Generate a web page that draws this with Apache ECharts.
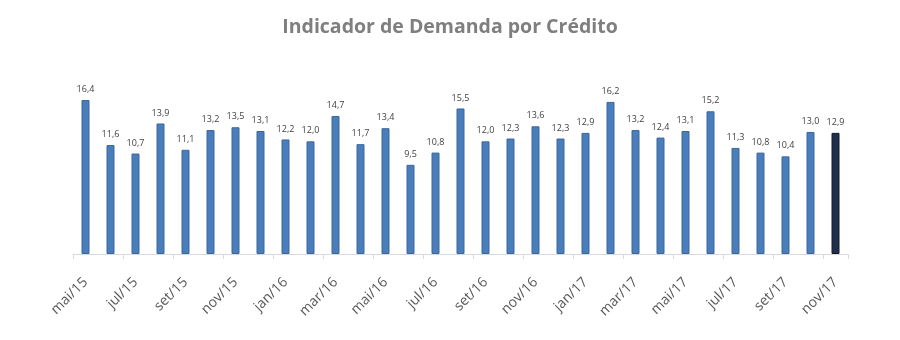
<!DOCTYPE html>
<html>
<head>
<meta charset="utf-8">
<script src="https://cdn.jsdelivr.net/npm/echarts@6/dist/echarts.min.js"></script>
<style>
  html, body { margin: 0; padding: 0; background: #ffffff; }
  #chart { width: 900px; height: 340px; }
</style>
</head>
<body>
<div id="chart"></div>
<script>
// Monthly credit demand indicator, May 2015 – November 2017
const months = [
  'mai/15','jun/15','jul/15','ago/15','set/15','out/15','nov/15','dez/15',
  'jan/16','fev/16','mar/16','abr/16','mai/16','jun/16','jul/16','ago/16',
  'set/16','out/16','nov/16','dez/16','jan/17','fev/17','mar/17','abr/17',
  'mai/17','jun/17','jul/17','ago/17','set/17','out/17','nov/17'
];
const indicatorValues = [
  16.4, 11.6, 10.7, 13.9, 11.1, 13.2, 13.5, 13.1,
  12.2, 12.0, 14.7, 11.7, 13.4, 9.5, 10.8, 15.5,
  12.0, 12.3, 13.6, 12.3, 12.9, 16.2, 13.2, 12.4,
  13.1, 15.2, 11.3, 10.8, 10.4, 13.0, 12.9
];

const barColor = '#4A7EBB';
const barBorder = '#3A679C';
const latestColor = '#1F2E4A';

const seriesData = indicatorValues.map((v, i) => {
  const last = i === indicatorValues.length - 1;
  return {
    value: v,
    itemStyle: {
      color: last ? latestColor : barColor,
      borderColor: last ? '#111a2c' : barBorder,
      borderWidth: 1
    }
  };
});

const chart = echarts.init(document.getElementById('chart'), null, { renderer: 'canvas' });
chart.setOption({
  animation: false,
  backgroundColor: '#ffffff',
  title: {
    text: 'Indicador de Demanda por Crédito',
    left: 'center',
    top: 12,
    textStyle: {
      fontFamily: 'Open Sans',
      fontWeight: 'bold',
      fontSize: 19.5,
      color: '#7F7F7F'
    }
  },
  grid: { left: 73, right: 52, top: 85, bottom: 86 },
  xAxis: {
    type: 'category',
    data: months,
    boundaryGap: true,
    axisLine: { lineStyle: { color: '#D9D9D9', width: 1 } },
    axisTick: { show: true, interval: 1, length: 5, lineStyle: { color: '#D9D9D9' } },
    axisLabel: {
      interval: 1,
      rotate: 45,
      margin: 26,
      fontFamily: 'Open Sans',
      fontSize: 14,
      color: '#595959'
    }
  },
  yAxis: {
    type: 'value',
    min: 0,
    max: 18,
    show: false,
    splitLine: { show: false }
  },
  series: [{
    type: 'bar',
    data: seriesData,
    barWidth: 8,
    label: {
      show: true,
      position: 'top',
      distance: 6,
      fontFamily: 'Open Sans',
      fontSize: 9,
      color: '#404040',
      formatter: p => p.value.toFixed(1).replace('.', ',')
    }
  }]
});
</script>
</body>
</html>
